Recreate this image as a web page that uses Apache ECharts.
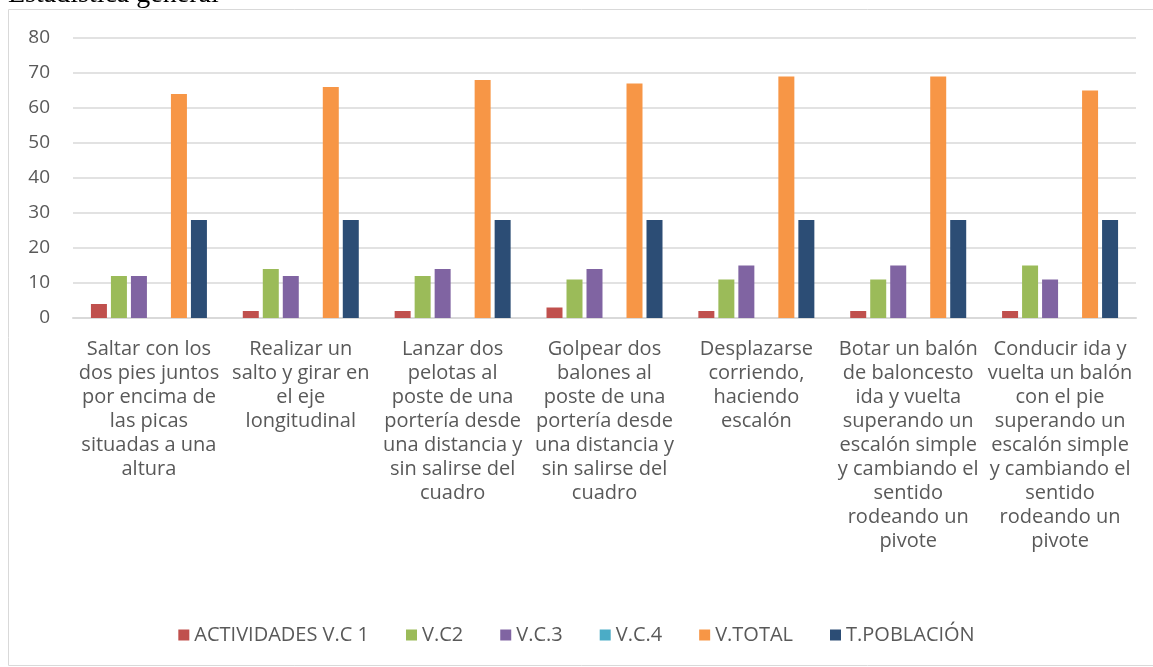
<!DOCTYPE html>
<html>
<head>
<meta charset="utf-8">
<script src="https://cdn.jsdelivr.net/npm/echarts@6/dist/echarts.min.js"></script>
<style>
  html, body { margin: 0; padding: 0; background: #fff; }
  #chart { width: 1153px; height: 667px; }
</style>
</head>
<body>
<div id="chart"></div>
<script>
// categorias (actividades)
var categorias = [
  'Saltar con los\ndos pies juntos\npor encima de\nlas picas\nsituadas a una\naltura',
  'Realizar un\nsalto y girar en\nel eje\nlongitudinal',
  'Lanzar dos\npelotas al\nposte de una\nportería desde\nuna distancia y\nsin salirse del\ncuadro',
  'Golpear dos\nbalones al\nposte de una\nportería desde\nuna distancia y\nsin salirse del\ncuadro',
  'Desplazarse\ncorriendo,\nhaciendo\nescalón',
  'Botar un balón\nde baloncesto\nida y vuelta\nsuperando un\nescalón simple\ny cambiando el\nsentido\nrodeando un\npivote',
  'Conducir ida y\nvuelta un balón\ncon el pie\nsuperando un\nescalón simple\ny cambiando el\nsentido\nrodeando un\npivote'
];
var vc1 = [4, 2, 2, 3, 2, 2, 2];
var vc2 = [12, 14, 12, 11, 11, 11, 15];
var vc3 = [12, 12, 14, 14, 15, 15, 11];
var vc4 = [0, 0, 0, 0, 0, 0, 0];
var vTotal = [64, 66, 68, 67, 69, 69, 65];
var tPoblacion = [28, 28, 28, 28, 28, 28, 28];
var nombres = ['ACTIVIDADES V.C 1', 'V.C2', 'V.C.3', 'V.C.4', 'V.TOTAL', 'T.POBLACIÓN'];
var colores = ['#C0504D', '#9BBB59', '#8064A2', '#4BACC6', '#F79646', '#2C4D75'];

var chart = echarts.init(document.getElementById('chart'));

function serie(i, datos) {
  return {
    name: nombres[i],
    type: 'bar',
    data: datos,
    barWidth: 16,
    barGap: '25%',
    itemStyle: { color: colores[i] },
    emphasis: { disabled: true }
  };
}

var option = {
  animation: false,
  textStyle: { fontFamily: '"Open Sans", Lato, sans-serif' },
  color: colores,
  graphic: [
    {
      type: 'rect',
      shape: { x: 8.5, y: 9.5, width: 1150, height: 656 },
      style: { fill: 'none', stroke: '#d9d9d9', lineWidth: 1 },
      silent: true
    },
    {
      type: 'text',
      x: 8,
      y: 9,
      style: {
        text: 'Estadística general',
        font: '28px "Liberation Serif", serif',
        fill: '#000',
        verticalAlign: 'bottom'
      },
      silent: true
    }
  ],
  grid: { left: 73, right: 17, top: 38, bottom: 349 },
  legend: {
    bottom: 17,
    left: 'center',
    itemWidth: 11,
    itemHeight: 11,
    itemGap: 37,
    icon: 'rect',
    textStyle: { fontSize: 20, color: '#595959', fontFamily: '"Open Sans", sans-serif' },
    data: nombres
  },
  xAxis: {
    type: 'category',
    data: categorias,
    axisLine: { lineStyle: { color: '#d9d9d9', width: 2 } },
    axisTick: { show: false },
    axisLabel: {
      interval: 0,
      fontSize: 20,
      lineHeight: 24,
      color: '#595959',
      margin: 19,
      verticalAlign: 'top'
    }
  },
  yAxis: {
    type: 'value',
    min: 0,
    max: 80,
    interval: 10,
    axisLine: { show: false },
    axisTick: { show: false },
    axisLabel: { fontSize: 19, color: '#595959', margin: 23 },
    splitLine: { lineStyle: { color: '#d9d9d9', width: 1.5 } }
  },
  series: [
    serie(0, vc1),
    serie(1, vc2),
    serie(2, vc3),
    serie(3, vc4),
    serie(4, vTotal),
    serie(5, tPoblacion)
  ]
};

chart.setOption(option);
</script>
</body>
</html>
